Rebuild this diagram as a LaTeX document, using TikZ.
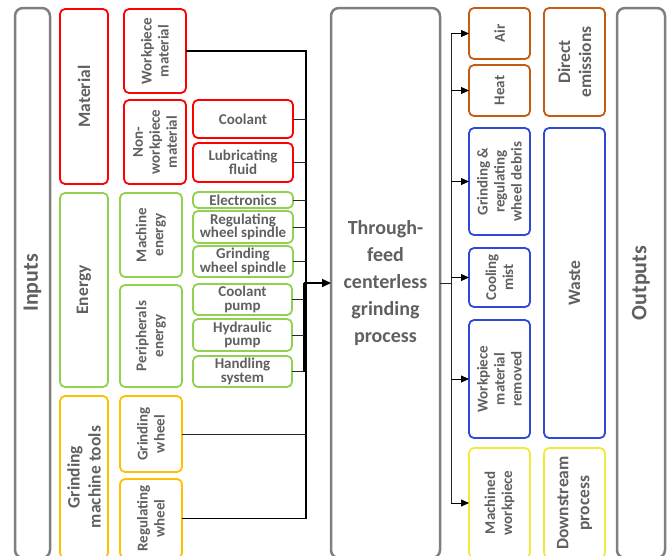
\documentclass[tikz,border=0pt]{standalone}
\usepackage{fontspec}
\setmainfont{Carlito}
\usetikzlibrary{arrows.meta}

\definecolor{matred}{HTML}{FF0000}
\definecolor{enggreen}{HTML}{92D050}
\definecolor{toolyellow}{HTML}{FFC000}
\definecolor{emitbrown}{HTML}{C55A11}
\definecolor{wasteblue}{HTML}{3048D8}
\definecolor{prodyellow}{HTML}{EFEA3C}
\definecolor{framegray}{HTML}{7F7F7F}
\definecolor{txtgray}{HTML}{606060}

\tikzset{
  box/.style={draw, rounded corners=5pt, line width=1.8pt, inner sep=0pt, outer sep=0pt,
    align=center, text=txtgray, font=\fontsize{15}{13.5}\selectfont\bfseries},
  vbox/.style={box, rotate=90, font=\fontsize{15}{17}\selectfont\bfseries},
  bigtext/.style={font=\fontsize{17.5}{21}\selectfont\bfseries},
  frame/.style={vbox, draw=framegray, line width=2.5pt, rounded corners=8pt,
    font=\fontsize{22}{24}\selectfont\bfseries},
  link/.style={draw=black!85, line width=0.8pt},
  bus/.style={draw=black, line width=1.2pt},
  feed/.style={draw=black, line width=1.5pt, -{Triangle[length=9pt,width=8pt]}},
  outarrow/.style={draw=black, line width=0.8pt, -{Triangle[length=8pt,width=7pt]}}
}

\begin{document}
\begin{tikzpicture}[x=1pt, y=-1pt]
    \useasboundingbox (0,0) rectangle (668,555);
    \clip (0,0) rectangle (668,555);

    \node[frame, minimum width=550pt, minimum height=35pt] (IN) at (32.5,283) {Inputs};
    \node[vbox, bigtext, draw=matred, minimum width=175pt, minimum height=48pt] (MAT) at (84,96.5) {Material};
    \node[vbox, draw=matred, minimum width=84pt, minimum height=62pt] (WM) at (155,51) {Workpiece\\material};
    \node[vbox, draw=matred, minimum width=84pt, minimum height=62pt] (NWM) at (155,142) {Non-\\workpiece\\material};
    \node[box, draw=matred, minimum width=100pt, minimum height=38pt] (COOL) at (243,119) {Coolant};
    \node[box, draw=matred, minimum width=100pt, minimum height=39pt] (LUB) at (243,162.5) {Lubricating\\fluid};
    \node[vbox, bigtext, draw=enggreen, minimum width=194pt, minimum height=48pt] (ENG) at (84,290) {Energy};
    \node[vbox, draw=enggreen, minimum width=84pt, minimum height=62pt] (ME) at (151,235) {Machine\\energy};
    \node[vbox, draw=enggreen, minimum width=102pt, minimum height=62pt] (PE) at (151,336) {Peripherals\\energy};
    \node[box, draw=enggreen, minimum width=100pt, minimum height=16pt] (ELEC) at (243,200) {Electronics};
    \node[box, draw=enggreen, minimum width=100pt, minimum height=32pt] (RWS) at (243,227) {Regulating\\wheel spindle};
    \node[box, draw=enggreen, minimum width=100pt, minimum height=31pt] (GWS) at (243,261.5) {Grinding\\wheel spindle};
    \node[box, draw=enggreen, minimum width=99pt, minimum height=31pt] (CP) at (242.5,299.5) {Coolant\\pump};
    \node[box, draw=enggreen, minimum width=99pt, minimum height=32pt] (HP) at (242.5,335) {Hydraulic\\pump};
    \node[box, draw=enggreen, minimum width=99pt, minimum height=31pt] (HS) at (242.5,371.5) {Handling\\system};
    \node[vbox, bigtext, draw=toolyellow, minimum width=162pt, minimum height=48pt] (GMT) at (84,477) {Grinding\\machine tools};
    \node[vbox, draw=toolyellow, minimum width=76pt, minimum height=62pt] (GW) at (151,434) {Grinding\\wheel};
    \node[vbox, draw=toolyellow, minimum width=79pt, minimum height=62pt] (RW) at (151,518.5) {Regulating\\wheel};

    \node[box, draw=framegray, line width=2.5pt, rounded corners=8pt, minimum width=109pt, minimum height=550pt,
      font=\fontsize{20}{27}\selectfont\bfseries] (PROC) at (385.5,283) {Through-\\feed\\centerless\\grinding\\process};

    \node[vbox, draw=emitbrown, minimum width=51pt, minimum height=61pt] (AIR) at (499.5,33.5) {Air};
    \node[vbox, draw=emitbrown, minimum width=51pt, minimum height=61pt] (HEAT) at (499.5,90.5) {Heat};
    \node[vbox, draw=wasteblue, minimum width=107pt, minimum height=61pt] (DEB) at (499.5,181.5) {Grinding \&\\regulating\\wheel debris};
    \node[vbox, draw=wasteblue, minimum width=59pt, minimum height=61pt] (CM) at (499.5,277.5) {Cooling\\mist};
    \node[vbox, draw=wasteblue, minimum width=118pt, minimum height=61pt] (WMR) at (499.5,379) {Workpiece\\material\\removed};
    \node[vbox, draw=prodyellow, minimum width=110pt, minimum height=61pt] (MW) at (499.5,503) {Machined\\workpiece};
    \node[vbox, bigtext, draw=emitbrown, minimum width=108pt, minimum height=61pt] (DE) at (574.5,62) {Direct\\emissions};
    \node[vbox, bigtext, draw=wasteblue, minimum width=310pt, minimum height=61pt] (WASTE) at (574.5,283) {Waste};
    \node[vbox, bigtext, draw=prodyellow, minimum width=110pt, minimum height=61pt] (DP) at (574.5,503) {Downstream\\process};
    \node[frame, minimum width=550pt, minimum height=48pt] (OUT) at (641,283) {Outputs};

    \coordinate (LBUS) at (306,283);
    \coordinate (PBUS) at (304,283);
    \coordinate (RBUS) at (451,283);

    \draw[bus] (WM.south) -| (RW.south -| LBUS) -- (RW.south);
    \draw[link] (COOL.east) -- (COOL.east -| LBUS);
    \draw[link] (LUB.east) -- (LUB.east -| LBUS);
    \draw[link] (ELEC.east) -- (ELEC.east -| LBUS);
    \draw[link] (RWS.east) -- (RWS.east -| LBUS);
    \draw[link] (GWS.east) -- (GWS.east -| LBUS);
    \draw[link] (GW.south) -- (GW.south -| LBUS);
    \draw[bus] (PBUS) -- (HS.east -| PBUS);
    \draw[link] (CP.east) -- (CP.east -| PBUS);
    \draw[link] (HP.east) -- (HP.east -| PBUS);
    \draw[link] (HS.east) -- (HS.east -| PBUS);
    \draw[feed] (PBUS) -- (PROC.west);

    \draw[link] (PROC.east) -- (RBUS);
    \draw[link] (AIR.north -| RBUS) -- (MW.north -| RBUS);
    \draw[outarrow] (AIR.north -| RBUS) -- (AIR.north);
    \draw[outarrow] (HEAT.north -| RBUS) -- (HEAT.north);
    \draw[outarrow] (DEB.north -| RBUS) -- (DEB.north);
    \draw[outarrow] (CM.north -| RBUS) -- (CM.north);
    \draw[outarrow] (WMR.north -| RBUS) -- (WMR.north);
    \draw[outarrow] (MW.north -| RBUS) -- (MW.north);
\end{tikzpicture}
\end{document}
